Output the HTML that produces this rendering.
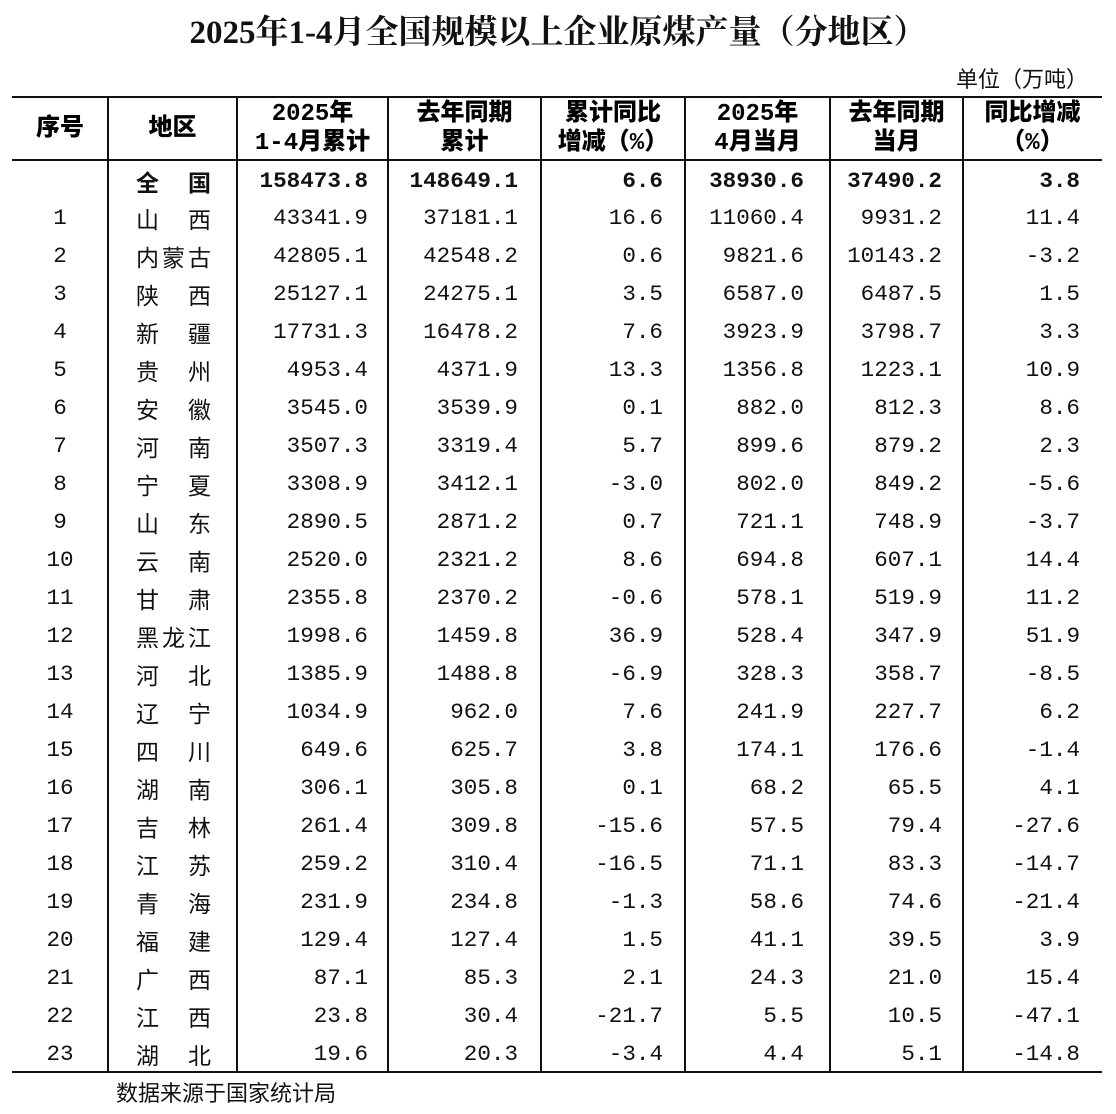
<!DOCTYPE html>
<html><head><meta charset="utf-8"><style>
body{margin:0;background:#fff;width:1116px;height:1114px;position:relative;overflow:hidden;font-family:"Liberation Mono","Noto Sans CJK SC",monospace;color:#111}
.t{position:absolute;left:0;width:1116px;top:6px;text-align:center;font:bold 33px "Liberation Serif","Noto Serif CJK SC",serif}
.u{position:absolute;right:28px;top:62px;font:22px "Liberation Sans","Noto Sans CJK SC",sans-serif}
.h{position:absolute;height:2px;background:#111;left:12px;width:1090px}
.v{position:absolute;width:2px;background:#111;top:97px;height:976px}
.hd{position:absolute;top:99px;height:60px;display:flex;flex-direction:column;justify-content:center;align-items:center;font:900 24px "Liberation Mono","Noto Sans CJK SC",sans-serif;line-height:29px;text-align:center;color:#000}
.r{position:absolute;left:0;width:1116px;height:38px;font-size:22.6px;line-height:38px}
.r div{position:absolute;top:0}
.n{text-align:right}
.nm{left:108px;width:129px;display:flex;justify-content:space-between;padding:0 26px 0 28px;box-sizing:border-box;font-family:"Noto Sans CJK SC",sans-serif;font-size:23px}
.b{font-weight:bold}
.src{position:absolute;left:116px;top:1076px;font:22px "Noto Sans CJK SC",sans-serif}
</style></head><body>
<div class="t">2025年1-4月全国规模以上企业原煤产量（分地区）</div>
<div class="u">单位（万吨）</div>
<div class="h" style="top:96px"></div>
<div class="h" style="top:159px"></div>
<div class="h" style="top:1071px"></div>
<div class="v" style="left:107px"></div>
<div class="v" style="left:236px"></div>
<div class="v" style="left:387px"></div>
<div class="v" style="left:540px"></div>
<div class="v" style="left:684px"></div>
<div class="v" style="left:829px"></div>
<div class="v" style="left:962px"></div>
<div class="hd" style="left:12px;width:96px">序号</div>
<div class="hd" style="left:108px;width:129px">地区</div>
<div class="hd" style="left:237px;width:151px">2025年<br>1-4月累计</div>
<div class="hd" style="left:388px;width:153px">去年同期<br>累计</div>
<div class="hd" style="left:541px;width:144px">累计同比<br>增减（%）</div>
<div class="hd" style="left:685px;width:145px">2025年<br>4月当月</div>
<div class="hd" style="left:830px;width:133px">去年同期<br>当月</div>
<div class="hd" style="left:963px;width:139px">同比增减<br>（%）</div>
<div id="rows"></div>
<div class="src">数据来源于国家统计局</div>
<script>
var d=[["","全国","158473.8","148649.1","6.6","38930.6","37490.2","3.8"],
["1","山西","43341.9","37181.1","16.6","11060.4","9931.2","11.4"],
["2","内蒙古","42805.1","42548.2","0.6","9821.6","10143.2","-3.2"],
["3","陕西","25127.1","24275.1","3.5","6587.0","6487.5","1.5"],
["4","新疆","17731.3","16478.2","7.6","3923.9","3798.7","3.3"],
["5","贵州","4953.4","4371.9","13.3","1356.8","1223.1","10.9"],
["6","安徽","3545.0","3539.9","0.1","882.0","812.3","8.6"],
["7","河南","3507.3","3319.4","5.7","899.6","879.2","2.3"],
["8","宁夏","3308.9","3412.1","-3.0","802.0","849.2","-5.6"],
["9","山东","2890.5","2871.2","0.7","721.1","748.9","-3.7"],
["10","云南","2520.0","2321.2","8.6","694.8","607.1","14.4"],
["11","甘肃","2355.8","2370.2","-0.6","578.1","519.9","11.2"],
["12","黑龙江","1998.6","1459.8","36.9","528.4","347.9","51.9"],
["13","河北","1385.9","1488.8","-6.9","328.3","358.7","-8.5"],
["14","辽宁","1034.9","962.0","7.6","241.9","227.7","6.2"],
["15","四川","649.6","625.7","3.8","174.1","176.6","-1.4"],
["16","湖南","306.1","305.8","0.1","68.2","65.5","4.1"],
["17","吉林","261.4","309.8","-15.6","57.5","79.4","-27.6"],
["18","江苏","259.2","310.4","-16.5","71.1","83.3","-14.7"],
["19","青海","231.9","234.8","-1.3","58.6","74.6","-21.4"],
["20","福建","129.4","127.4","1.5","41.1","39.5","3.9"],
["21","广西","87.1","85.3","2.1","24.3","21.0","15.4"],
["22","江西","23.8","30.4","-21.7","5.5","10.5","-47.1"],
["23","湖北","19.6","20.3","-3.4","4.4","5.1","-14.8"]];
var rights=[368,518,663,804,942,1080],h="";
d.forEach(function(r,i){
 var y=(i==0?162:199+(i-1)*38),b=i==0?" b":"";
 h+='<div class="r'+b+'" style="top:'+y+'px"><div style="left:12px;width:96px;text-align:center">'+r[0]+'</div><div class="nm'+b+'">'+r[1].split("").map(function(c){return"<span>"+c+"</span>"}).join("")+'</div>';
 for(var k=0;k<6;k++)h+='<div class="n" style="right:'+(1116-rights[k])+'px">'+r[k+2]+'</div>';
 h+='</div>';
});
document.getElementById("rows").innerHTML=h;
</script>
</body></html>
